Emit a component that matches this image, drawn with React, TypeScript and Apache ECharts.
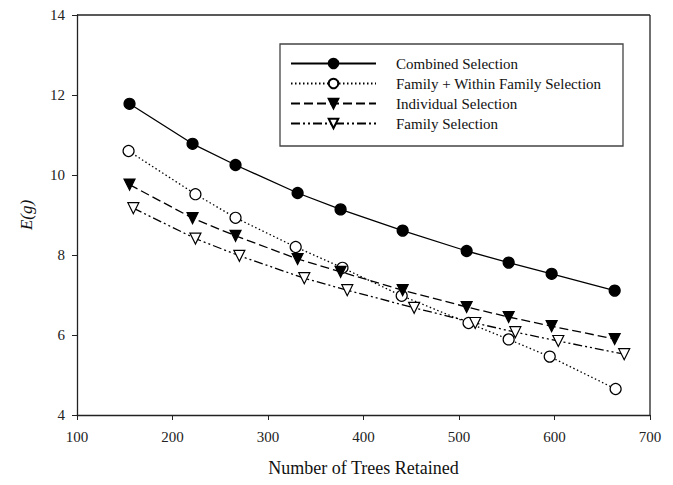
import React, { useEffect, useRef } from "react";
import * as echarts from "echarts";

const seriesNames = [
  "Combined Selection",
  "Family + Within Family Selection",
  "Individual Selection",
  "Family Selection",
];

const combined: [number, number][] = [
  [155, 11.78], [221, 10.78], [266, 10.25], [331, 9.55], [376, 9.14],
  [441, 8.61], [508, 8.1], [552, 7.81], [597, 7.53], [663, 7.11],
];
const familyWithin: [number, number][] = [
  [154, 10.6], [224, 9.52], [266, 8.93], [329, 8.2], [378, 7.68],
  [440, 6.98], [510, 6.3], [552, 5.89], [595, 5.46], [664, 4.65],
];
const individual: [number, number][] = [
  [155, 9.76], [221, 8.92], [266, 8.48], [331, 7.9], [376, 7.58],
  [441, 7.12], [508, 6.7], [552, 6.45], [597, 6.22], [663, 5.9],
];
const familySel: [number, number][] = [
  [159, 9.17], [224, 8.41], [270, 7.98], [338, 7.42], [383, 7.12],
  [453, 6.68], [517, 6.3], [559, 6.07], [604, 5.85], [673, 5.52],
];

const xTicks = { min: 100, max: 700, interval: 100 };
const yTicks = { min: 4, max: 14, interval: 2 };

const FONT = "'Times New Roman', 'Liberation Serif', 'DejaVu Serif', serif";

export default function App() {
  const ref = useRef<HTMLDivElement>(null);
  useEffect(() => {
    if (!ref.current) return;
    const chart = echarts.init(ref.current, undefined, { renderer: "svg" });
    const mk = (
      name: string,
      data: [number, number][],
      symbol: string,
      filled: boolean,
      lineType: any,
      rotate: number,
      size: number
    ) => ({
      type: "line",
      name,
      data,
      symbol,
      symbolSize: size,
      symbolRotate: rotate,
      showSymbol: true,
      z: 3,
      lineStyle: { color: "#000", width: 1.3, type: lineType },
      itemStyle: {
        color: filled ? "#000" : "#fff",
        borderColor: "#000",
        borderWidth: 1.2,
        opacity: 1,
      },
      emphasis: { disabled: true },
    });
    chart.setOption({
      animation: false,
      backgroundColor: "#fff",
      textStyle: { fontFamily: FONT },
      grid: { left: 77, right: 23, top: 15, bottom: 70, containLabel: false },
      xAxis: {
        type: "value",
        min: xTicks.min,
        max: xTicks.max,
        interval: xTicks.interval,
        name: "Number of Trees Retained",
        nameLocation: "middle",
        nameGap: 44,
        nameTextStyle: { fontFamily: FONT, fontSize: 18, color: "#111" },
        axisLine: { show: true, onZero: false, lineStyle: { color: "#222", width: 1.3 } },
        axisTick: { show: true, inside: false, length: 5, lineStyle: { color: "#222" } },
        axisLabel: { margin: 14, fontFamily: FONT, fontSize: 15, color: "#222" },
        splitLine: { show: false },
      },
      yAxis: {
        type: "value",
        min: yTicks.min,
        max: yTicks.max,
        interval: yTicks.interval,
        name: "E(g)",
        nameLocation: "middle",
        nameGap: 42,
        nameTextStyle: { fontFamily: FONT, fontSize: 17, fontStyle: "italic", color: "#111" },
        axisLine: { show: true, onZero: false, lineStyle: { color: "#222", width: 1.3 } },
        axisTick: { show: true, inside: false, length: 5, lineStyle: { color: "#222" } },
        axisLabel: { margin: 12, fontFamily: FONT, fontSize: 15, color: "#222" },
        splitLine: { show: false },
      },
      legend: {
        orient: "vertical",
        left: 290,
        top: 56,
        itemWidth: 85,
        itemHeight: 12,
        itemGap: 5,
        padding: 0,
        textStyle: { fontFamily: FONT, fontSize: 15, color: "#111", padding: [0, 0, 0, 15] },
        data: seriesNames,
      },
      graphic: [
        {
          type: "rect",
          shape: { x: 280, y: 44, width: 343, height: 102 },
          style: { fill: "none", stroke: "#444", lineWidth: 1.3 },
          z: 10,
        },
        {
          type: "line",
          shape: { x1: 77, y1: 15, x2: 650, y2: 15 },
          style: { stroke: "#222", lineWidth: 1.3 },
        },
        {
          type: "line",
          shape: { x1: 650, y1: 15, x2: 650, y2: 415 },
          style: { stroke: "#222", lineWidth: 1.3 },
        },
      ],
      series: [
        mk(seriesNames[0], combined, "circle", true, "solid", 0, 11),
        mk(seriesNames[1], familyWithin, "circle", false, [1.5, 2.5], 0, 11),
        mk(seriesNames[2], individual, "triangle", true, [9, 4], 180, 11),
        mk(seriesNames[3], familySel, "triangle", false, [9, 3, 2, 3, 2, 3], 180, 11),
      ],
    });
    return () => chart.dispose();
  }, []);
  return <div ref={ref} style={{ width: 673, height: 485, margin: -8 }} />;
}
